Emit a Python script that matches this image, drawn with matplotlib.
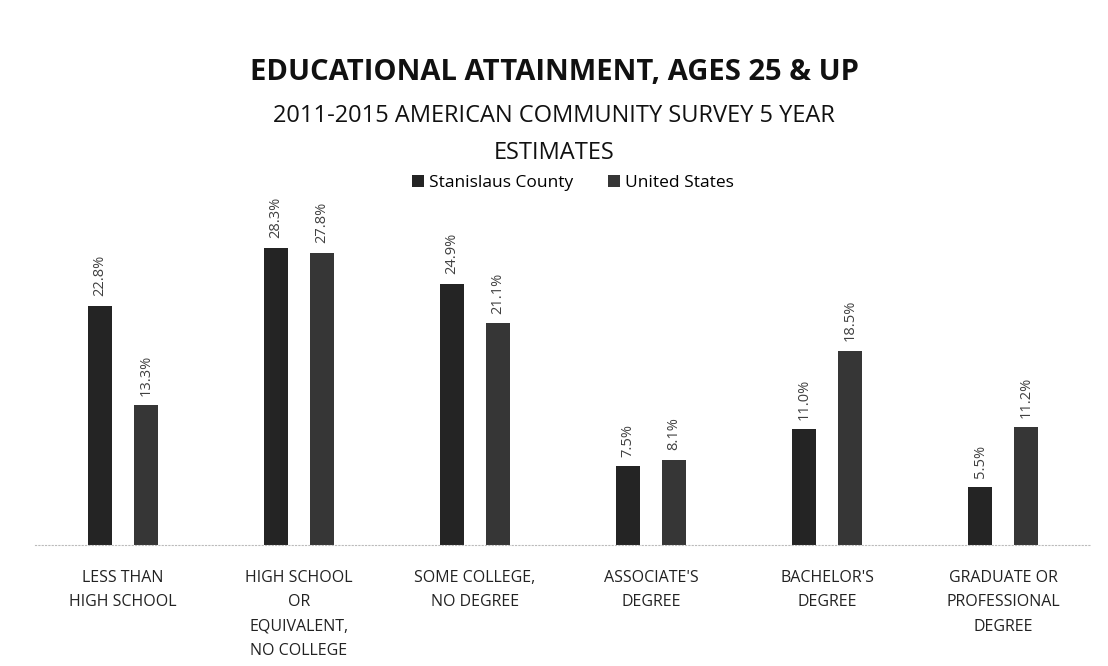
import matplotlib
matplotlib.use("Agg")
import matplotlib.pyplot as plt
import numpy as np

# Data
categories = ["LESS THAN\nHIGH SCHOOL",
              "HIGH SCHOOL\nOR\nEQUIVALENT,\nNO COLLEGE",
              "SOME COLLEGE,\nNO DEGREE",
              "ASSOCIATE'S\nDEGREE",
              "BACHELOR'S\nDEGREE",
              "GRADUATE OR\nPROFESSIONAL\nDEGREE"]
stanislaus = [22.8, 28.3, 24.9, 7.5, 11.0, 5.5]
united_states = [13.3, 27.8, 21.1, 8.1, 18.5, 11.2]
series_names = ["Stanislaus County", "United States"]

plt.rcParams['font.family'] = ['Open Sans', 'DejaVu Sans']

fig = plt.figure(figsize=(11.08, 6.66), dpi=100)
ax = fig.add_axes([35 / 1108, 1 - 545 / 666, 1056 / 1108, 335 / 666])

x = np.arange(len(categories))
w = 0.136
off = 0.13
b1 = ax.bar(x - off, stanislaus, w, color="#242424", label=series_names[0])
b2 = ax.bar(x + off, united_states, w, color="#363636", label=series_names[1])

for bars, vals in ((b1, stanislaus), (b2, united_states)):
    for rect, v in zip(bars, vals):
        ax.annotate(f"{v:.1f}%", (rect.get_x() + rect.get_width() / 2, v),
                    xytext=(0, 7), textcoords="offset points",
                    rotation=90, ha="center", va="bottom",
                    fontsize=10.5, color="#404040")

ax.set_xlim(-0.5, 5.5)
ax.set_ylim(0, 31.9)
ax.set_yticks([])
ax.set_xticks(x)
ax.set_xticklabels(categories, fontsize=11.5, color="#222222", linespacing=1.7)
ax.tick_params(axis="x", length=0, pad=18)
for s in ("top", "right", "left"):
    ax.spines[s].set_visible(False)
ax.spines["bottom"].set_color("#bbbbbb")
ax.spines["bottom"].set_linestyle((0, (1, 2)))

fig.text(0.5, 1 - 73 / 666, "EDUCATIONAL ATTAINMENT, AGES 25 & UP",
         ha="center", va="center", fontsize=21, fontweight="bold", color="#111111")
fig.text(0.5, 1 - 116 / 666, "2011-2015 AMERICAN COMMUNITY SURVEY 5 YEAR",
         ha="center", va="center", fontsize=17, color="#111111")
fig.text(0.5, 1 - 153 / 666, "ESTIMATES",
         ha="center", va="center", fontsize=17, color="#111111")

fig.legend(loc="center", bbox_to_anchor=(0.517, 1 - 183 / 666), ncol=2,
           frameon=False, fontsize=12.5, handlelength=0.7, handleheight=0.7,
           handletextpad=0.3, columnspacing=2.0)

fig.savefig("out.png", dpi=100)
